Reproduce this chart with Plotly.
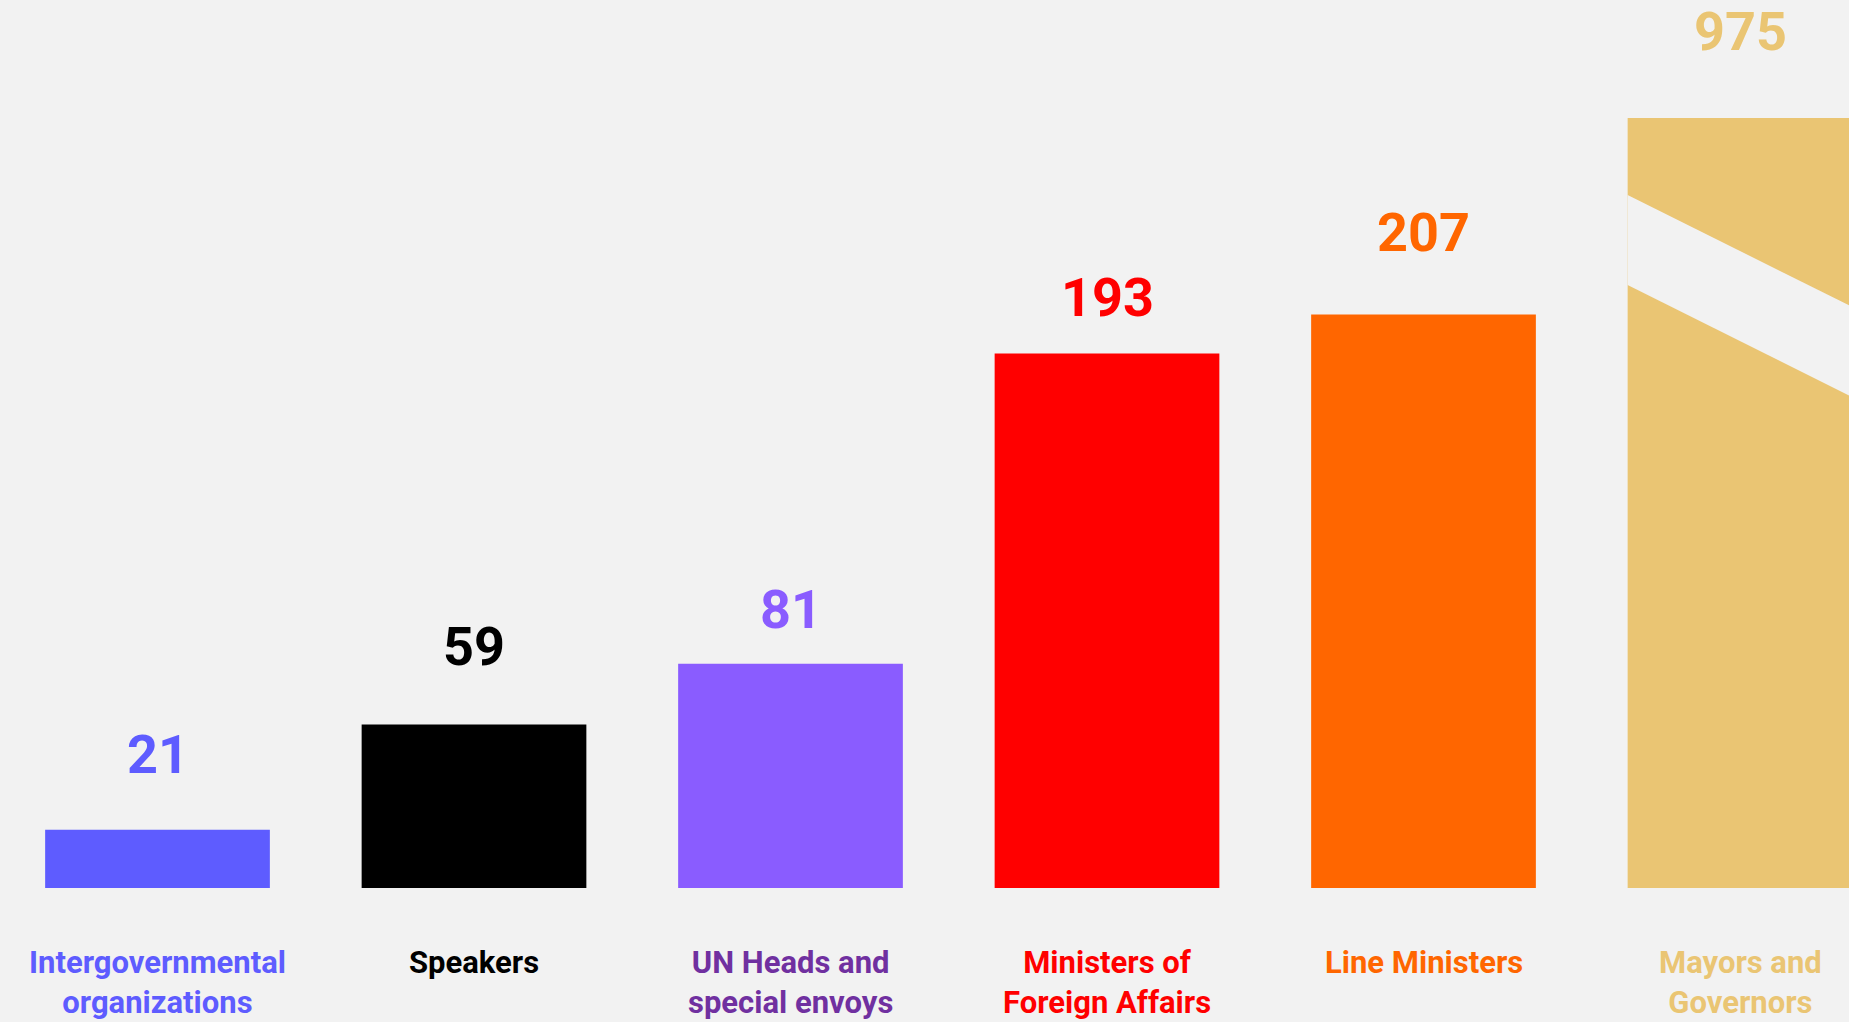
import plotly.graph_objects as go

# ---- data ----
categories = [
    "Intergovernmental<br>organizations",
    "Speakers",
    "UN Heads and<br>special envoys",
    "Ministers of<br>Foreign Affairs",
    "Line Ministers",
    "Mayors and<br>Governors",
]
values = [21, 59, 81, 193, 207, 975]
value_labels = ["21", "59", "81", "193", "207", "975"]

# ---- styles ----
bar_colors = ["#5E5CFF", "#000000", "#8A5CFF", "#FF0000", "#FF6600", "#EAC573"]
category_label_colors = ["#5E5CFF", "#000000", "#7030A0", "#FF0000", "#FF6600", "#EAC573"]
value_label_offsets_px = [75, 78, 54, 56, 82, 86]  # gap from bar top to label centre
BG = "#F2F2F2"
AXIS_CAP = 278  # bars taller than this are drawn with a break

W, H = 1849, 1022
display_values = [min(v, AXIS_CAP) for v in values]

fig = go.Figure()
fig.add_trace(go.Bar(
    x=categories,
    y=display_values,
    marker=dict(color=bar_colors, line=dict(width=0)),
    hoverinfo="skip",
))

# value labels above bars
for cat, dv, lab, col, off in zip(categories, display_values, value_labels, bar_colors, value_label_offsets_px):
    fig.add_annotation(
        x=cat, y=dv, xref="x", yref="y", text=lab, showarrow=False,
        yanchor="middle", yshift=off,
        font=dict(family="Roboto", size=54, color=col, weight="bold"),
    )

# category labels below bars
for cat, col in zip(categories, category_label_colors):
    fig.add_annotation(
        x=cat, y=1 - 942 / H, xref="x", yref="paper", text=cat, showarrow=False,
        yanchor="top", align="center",
        font=dict(family="Roboto", size=31, color=col, weight="bold"),
    )

# axis break on capped bars
bargap = 0.29
half = (1 - bargap) / 2
slope = 57.0        # data units per category unit
thick = 0.117 * AXIS_CAP
for i, v in enumerate(values):
    if v > AXIS_CAP:
        x0 = i - half
        x1 = i + 0.7
        y0 = 0.9 * AXIS_CAP
        y1 = y0 - slope * (x1 - x0)
        fig.add_shape(
            type="path", xref="x", yref="y",
            path=f"M {x0},{y0} L {x1},{y1} L {x1},{y1 - thick} L {x0},{y0 - thick} Z",
            fillcolor=BG, line=dict(width=0), layer="above",
        )

px_per_unit = 2.77
base_px = 888
fig.update_layout(
    width=W, height=H,
    margin=dict(l=0, r=0, t=0, b=0),
    paper_bgcolor=BG, plot_bgcolor=BG,
    bargap=bargap,
    showlegend=False,
    xaxis=dict(
        type="category",
        range=[-157.5 / 316.5, -157.5 / 316.5 + W / 316.5],
        showticklabels=False, showgrid=False, zeroline=False, showline=False,
        fixedrange=True,
    ),
    yaxis=dict(
        range=[-(H - base_px) / px_per_unit, base_px / px_per_unit],
        showticklabels=False, showgrid=False, zeroline=False, showline=False,
        fixedrange=True,
    ),
)

fig.write_html(
    "out.html",
    config={"displayModeBar": False},
    post_script="document.body.style.margin='0';document.body.style.overflow='hidden';",
)
